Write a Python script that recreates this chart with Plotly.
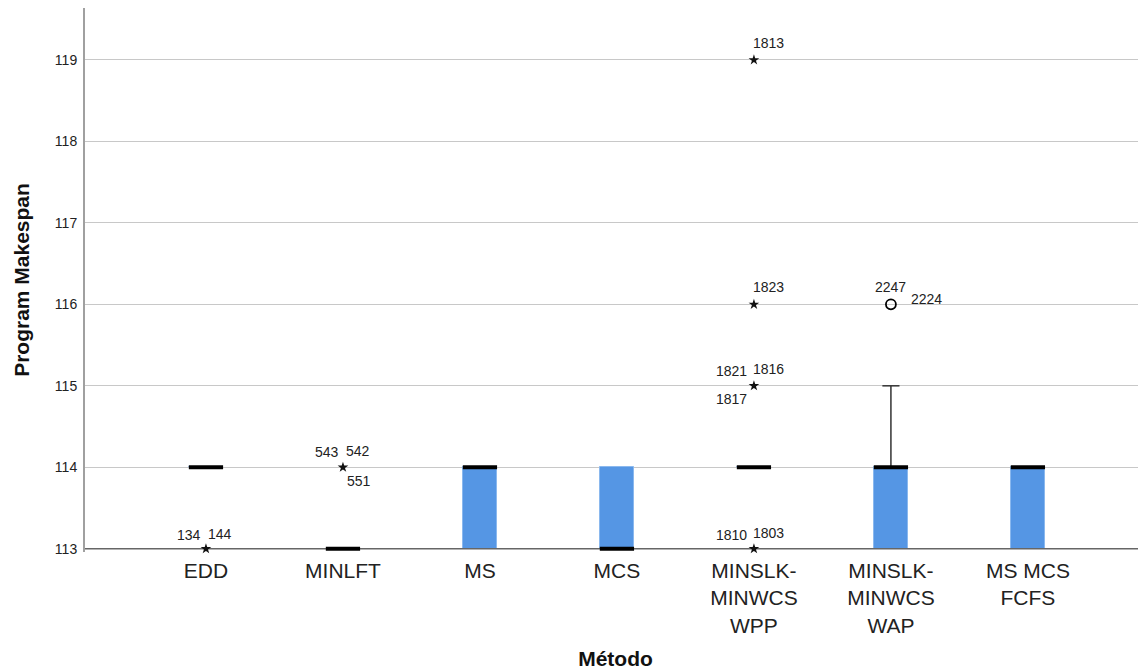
import plotly.graph_objects as go

# ---------------- data ----------------
categories = ["EDD", "MINLFT", "MS", "MCS",
              "MINSLK-<br>MINWCS<br>WPP", "MINSLK-<br>MINWCS<br>WAP", "MS MCS<br>FCFS"]
q1 = [114, 113, 113, 113, 114, 113, 113]
median = [114, 113, 114, 113, 114, 114, 114]
q3 = [114, 113, 114, 114, 114, 114, 114]
whisker_low = [114, 113, 113, 113, 114, 113, 113]
whisker_high = [114, 113, 114, 114, 114, 115, 114]

# extreme outliers (stars): category index, value, case labels
extreme_cat = [0, 1, 4, 4, 4, 4]
extreme_val = [113, 114, 113, 115, 116, 119]
extreme_labels = [["134", "144"], ["543", "542", "551"], ["1810", "1803"],
                  ["1821", "1816", "1817"], ["1823"], ["1813"]]
# mild outliers (circles)
mild_cat = [5]
mild_val = [116]
mild_labels = [["2247", "2224"]]

y_ticks = [113, 114, 115, 116, 117, 118, 119]

# ---------------- style ----------------
BOX_W = 0.25
CAP_W = 0.125
BLUE = "#5596e4"
FONT = "Liberation Sans"

# label pixel offsets (style only), one list per outlier group
extreme_offsets = [
    [(-17, 14), (14, 15)],
    [(-16, 15), (15, 16), (16, -14)],
    [(-22, 14), (15, 16)],
    [(-22, 15), (15, 17), (-22, -13)],
    [(15, 17)],
    [(15, 17)],
]
mild_offsets = [[(0, 17), (36, 5)]]

fig = go.Figure()

xs = list(range(len(categories)))

# boxes
fig.add_trace(go.Bar(
    x=xs, y=[b - a for a, b in zip(q1, q3)], base=q1, width=BOX_W,
    marker=dict(color=BLUE, line=dict(color="#8ab8ee", width=1)),
    hoverinfo="skip", showlegend=False))

# whiskers
wx, wy = [], []
for i in xs:
    if whisker_high[i] > q3[i]:
        wx += [i, i, None, i - CAP_W / 2, i + CAP_W / 2, None]
        wy += [q3[i], whisker_high[i], None, whisker_high[i], whisker_high[i], None]
    if whisker_low[i] < q1[i]:
        wx += [i, i, None, i - CAP_W / 2, i + CAP_W / 2, None]
        wy += [q1[i], whisker_low[i], None, whisker_low[i], whisker_low[i], None]
if wx:
    fig.add_trace(go.Scatter(x=wx, y=wy, mode="lines",
                             line=dict(color="#333333", width=1.5),
                             hoverinfo="skip", showlegend=False))

# bottom axis line at 113 (darker)
fig.add_trace(go.Scatter(x=[-0.883, 6.862], y=[113, 113], mode="lines",
                         line=dict(color="#666666", width=1.5),
                         hoverinfo="skip", showlegend=False))

# medians
mx, my = [], []
for i in xs:
    mx += [i - BOX_W / 2, i + BOX_W / 2, None]
    my += [median[i], median[i], None]
fig.add_trace(go.Scatter(x=mx, y=my, mode="lines",
                         line=dict(color="black", width=4),
                         hoverinfo="skip", showlegend=False))

# outliers
fig.add_trace(go.Scatter(x=extreme_cat, y=extreme_val, mode="markers",
                         marker=dict(symbol="star", size=8, color="#111"),
                         hoverinfo="skip", showlegend=False, cliponaxis=False))
fig.add_trace(go.Scatter(x=mild_cat, y=mild_val, mode="markers",
                         marker=dict(symbol="circle-open", size=10,
                                     line=dict(color="black", width=1.8), color="black"),
                         hoverinfo="skip", showlegend=False, cliponaxis=False))

annotations = []
for c, v, labs, offs in zip(extreme_cat, extreme_val, extreme_labels, extreme_offsets):
    for lab, (dx, dy) in zip(labs, offs):
        annotations.append(dict(x=c, y=v, xref="x", yref="y", text=lab, showarrow=False,
                                xshift=dx, yshift=dy, font=dict(size=14, color="#222")))
for c, v, labs, offs in zip(mild_cat, mild_val, mild_labels, mild_offsets):
    for lab, (dx, dy) in zip(labs, offs):
        annotations.append(dict(x=c, y=v, xref="x", yref="y", text=lab, showarrow=False,
                                xshift=dx, yshift=dy, font=dict(size=14, color="#222")))

fig.update_layout(
    width=1146, height=672,
    margin=dict(l=77, r=8, t=0, b=128, autoexpand=False),
    paper_bgcolor="white", plot_bgcolor="white",
    font=dict(family=FONT, color="#222"),
    annotations=annotations,
    xaxis=dict(
        range=[-0.883, 6.862], tickmode="array", tickvals=xs, ticktext=categories,
        tickfont=dict(size=21, color="#222"), showgrid=False, zeroline=False,
        showline=False, ticks="", ticklabelstandoff=4,
        title=dict(text="<b>Método</b>", font=dict(size=21, color="#111"), standoff=15),
    ),
    yaxis=dict(
        range=[112.96, 119.638], tickmode="array", tickvals=y_ticks,
        tickfont=dict(size=14, color="#222"), showgrid=True, gridcolor="#c8c8c8",
        gridwidth=1.2, zeroline=False, showline=True, linecolor="#a0a0a0", linewidth=2,
        ticks="", ticklabelstandoff=3,
        title=dict(text="<b>Program Makespan</b>", font=dict(size=21, color="#111"), standoff=20),
    ),
    bargap=0,
)

fig.write_html("out.html")
